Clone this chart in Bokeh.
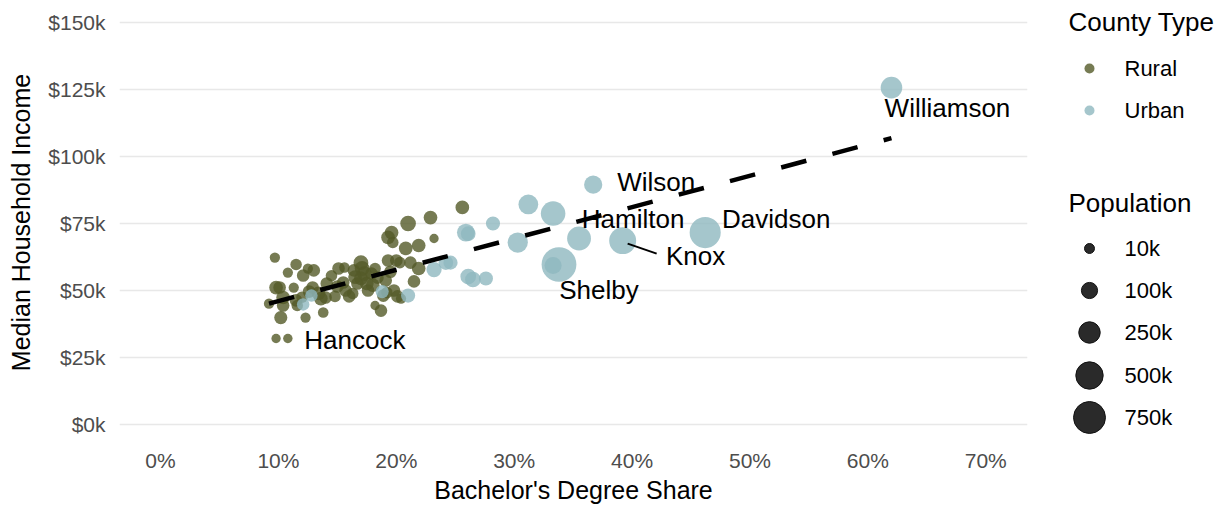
import numpy as np
from bokeh.plotting import figure
from bokeh.models import FixedTicker, Range1d
from bokeh.layouts import row
from bokeh.embed import file_html
from bokeh.resources import INLINE
from bokeh.core.properties import value

# ---------------- data ----------------
# Rural counties: bachelor's share (%), median household income ($), population
rural_names = ["Hancock"]  # labelled counties come first in the lists
rural_share = [10.8, 9.7, 9.2, 10.2, 9.8, 10.1, 10.4, 10.4, 11.5, 10.8, 11.3, 11.5, 11.6,
               12.1, 12.5, 13.0, 12.3, 12.9, 12.6, 13.4, 13.6, 14.0, 14.1, 13.8, 14.8,
               15.1, 15.6, 15.5, 15.7, 16.0, 16.4, 16.3, 17.0, 17.1, 17.3, 17.0, 16.7,
               17.5, 17.6, 17.9, 18.4, 18.2, 18.2, 18.7, 18.9, 19.2, 19.1, 19.3, 19.6,
               19.7, 19.3, 20.0, 20.3, 19.8, 20.1, 20.4, 20.8, 21.0, 21.2, 21.5, 21.9,
               21.9, 22.9, 23.2, 25.6, 9.8, 16.5, 18.0, 15.0, 14.5, 19.5, 12.0]
rural_income = [32100, 62300, 45100, 39900, 51100, 51100, 47400, 44400, 59700, 56700, 51100,
                46300, 44400, 55600, 58200, 57500, 39900, 51100, 49600, 48900, 47000, 47400,
                52600, 41800, 47800, 58200, 58600, 53000, 50000, 47800, 57500, 48900, 60400,
                58200, 56300, 54500, 52600, 52600, 50000, 56300, 54800, 58200, 44400, 42500,
                48100, 49200, 53700, 69800, 71600, 67900, 61200, 61200, 60400, 50000, 47800,
                47000, 65700, 75000, 60400, 53400, 58200, 66800, 77200, 69400, 81000, 32100,
                55000, 52000, 51500, 55500, 57000, 47500]
rural_pop = [6700, 12000, 12000, 44000, 53000, 37000, 53000, 37000, 24000, 12000, 12000,
             37000, 24000, 37000, 12000, 37000, 12000, 37000, 37000, 53000, 53000, 37000,
             37000, 15000, 24000, 37000, 15000, 37000, 37000, 37000, 37000, 24000, 72000,
             72000, 72000, 53000, 37000, 53000, 37000, 37000, 37000, 24000, 6000, 37000,
             37000, 24000, 37000, 53000, 53000, 24000, 37000, 37000, 24000, 37000, 37000,
             12000, 53000, 88000, 37000, 37000, 53000, 53000, 53000, 6000, 53000, 6000,
             53000, 53000, 37000, 24000, 37000, 24000]

# Urban counties
urban_names = ["Williamson", "Wilson", "Davidson", "Knox", "Hamilton", "Shelby"]
urban_share = [62.0, 36.7, 46.2, 39.2, 33.3, 33.8, 33.3, 35.5, 30.3, 31.2, 28.2, 25.9,
               26.1, 26.1, 26.5, 27.6, 23.2, 24.2, 24.6, 21.0, 18.8, 12.1, 12.8]
urban_income = [125700, 89500, 71600, 68600, 78700, 59700, 59300, 69400, 67900, 82100,
                75000, 71600, 71200, 55200, 54100, 54500, 57800, 60400, 60400, 48100,
                49600, 44800, 48100]
urban_pop = [255000, 150000, 700000, 480000, 370000, 930000, 120000, 340000, 210000,
             195000, 60000, 140000, 70000, 90000, 90000, 60000, 80000, 70000, 60000,
             60000, 45000, 35000, 35000]

x_ticks = [0.0, 0.1, 0.2, 0.3, 0.4, 0.5, 0.6, 0.7]
x_tick_labels = ["0%", "10%", "20%", "30%", "40%", "50%", "60%", "70%"]
y_ticks = [0, 25000, 50000, 75000, 100000, 125000, 150000]
y_tick_labels = ["$0k", "$25k", "$50k", "$75k", "$100k", "$125k", "$150k"]

legend_types = ["Rural", "Urban"]
legend_pops = [10000, 100000, 250000, 500000, 750000]
legend_pop_labels = ["10k", "100k", "250k", "500k", "750k"]

# ---------------- styles ----------------
FONT = "Liberation Sans"
RURAL_COL = "#545a28"
URBAN_COL = "#8eb8bf"
ALPHA = 0.8


def point_size(pop):
    return 7.1 + 0.0287 * np.sqrt(np.asarray(pop, dtype=float))


label_offsets = {  # screen px offsets of repelled labels from their points
    "Williamson": (56, 20),
    "Wilson": (63, -3),
    "Hamilton": (80, 5),
    "Davidson": (71, -14),
    "Knox": (73, 15),
    "Shelby": (40, 25),
    "Hancock": (67, 2),
}

X0, X1 = -0.0348, 0.7354
Y0, Y1 = -7462, 158208
FW, FH = 908, 444

p = figure(width=1048, height=508, x_range=Range1d(X0, X1), y_range=Range1d(Y0, Y1),
           toolbar_location=None, output_backend="svg",
           min_border_left=119, min_border_right=21, min_border_top=0, min_border_bottom=64)
p.outline_line_color = None
p.xgrid.visible = False
p.ygrid.grid_line_color = "#e8e8e8"
p.ygrid.grid_line_width = 1.6
p.ygrid.ticker = FixedTicker(ticks=y_ticks)

p.xaxis.ticker = FixedTicker(ticks=x_ticks)
p.xaxis.major_label_overrides = {t: l for t, l in zip(x_ticks, x_tick_labels)}
p.yaxis.ticker = FixedTicker(ticks=y_ticks)
p.yaxis.major_label_overrides = {t: l for t, l in zip(y_ticks, y_tick_labels)}
for ax in (p.xaxis, p.yaxis):
    ax.axis_line_color = None
    ax.major_tick_line_color = None
    ax.minor_tick_line_color = None
    ax.major_tick_out = 0
    ax.major_tick_in = 0
    ax.major_label_text_font = FONT
    ax.major_label_text_font_size = "21px"
    ax.major_label_text_color = "#4d4d4d"
    ax.axis_label_text_font = FONT
    ax.axis_label_text_font_size = "25px"
    ax.axis_label_text_font_style = "normal"
    ax.axis_label_text_color = "#000000"
p.xaxis.axis_label = "Bachelor's Degree Share"
p.yaxis.axis_label = "Median Household Income"
p.xaxis.major_label_standoff = 4
p.xaxis.axis_label_standoff = 1
p.yaxis.major_label_standoff = 14
p.yaxis.axis_label_standoff = 10

rx = np.array(rural_share) / 100.0
ux = np.array(urban_share) / 100.0
ry = np.array(rural_income, dtype=float)
uy = np.array(urban_income, dtype=float)

p.scatter(rx, ry, size=point_size(rural_pop), fill_color=RURAL_COL, fill_alpha=ALPHA,
          line_color=None)
p.scatter(ux, uy, size=point_size(urban_pop), fill_color=URBAN_COL, fill_alpha=ALPHA,
          line_color=None)

# linear trend
allx = np.concatenate([rx, ux])
ally = np.concatenate([ry, uy])
slope, icpt = np.polyfit(allx, ally, 1)
tx = np.array([allx.min(), allx.max()])
p.line(tx, slope * tx + icpt, line_color="black", line_width=4.5, line_dash="26 27")

# labels
lab_x, lab_y, lab_t, lab_dx, lab_dy = [], [], [], [], []
for names, xs, ys in ((rural_names, rx, ry), (urban_names, ux, uy)):
    for i, n in enumerate(names):
        dx, dy = label_offsets[n]
        lab_x.append(xs[i]); lab_y.append(ys[i]); lab_t.append(n)
        lab_dx.append(dx); lab_dy.append(dy)
p.text(x=lab_x, y=lab_y, text=lab_t, x_offset=lab_dx, y_offset=lab_dy,
       text_font=value(FONT), text_font_size="26px", text_align="center",
       text_baseline="middle", text_color="black")

# Knox connector segment
kx, ky = ux[urban_names.index("Knox")], uy[urban_names.index("Knox")]
ppx = (X1 - X0) / FW
ppy = (Y1 - Y0) / FH
p.segment(x0=[kx + 5 * ppx], y0=[ky - 3 * ppy], x1=[kx + 34 * ppx], y1=[ky - 13 * ppy],
          line_color="black", line_width=2)

# ---------------- legend panel ----------------
# (its frame is aligned with the main frame by the row layout: 1 unit = 1 px)
lg = figure(width=177, height=508, x_range=Range1d(0, 177), y_range=Range1d(FH, 0),
            toolbar_location=None, output_backend="svg", min_border=0,
            x_axis_location=None, y_axis_location=None)
lg.outline_line_color = None
lg.grid.visible = False

lg.text(x=[20, 20], y=[21, 202], text=["County Type", "Population"],
        text_font=value(FONT), text_font_size="26px", text_align="left",
        text_baseline="middle", text_color="black")
lg.scatter(x=[41, 41], y=[68, 110], size=10, fill_color=[RURAL_COL, URBAN_COL],
           fill_alpha=ALPHA, line_color=None)
lg.text(x=[76, 76], y=[68, 110], text=legend_types, text_font=value(FONT),
        text_font_size="22px", text_align="left", text_baseline="middle", text_color="black")
pop_y = [248, 290, 332, 375, 417]
lg.scatter(x=[41] * 5, y=pop_y, size=point_size(legend_pops), fill_color="#2a2a2a",
           line_color="#111111", line_width=1)
lg.text(x=[76] * 5, y=pop_y, text=legend_pop_labels, text_font=value(FONT),
        text_font_size="22px", text_align="left", text_baseline="middle", text_color="black")

layout = row(p, lg)
open("out.html", "w").write(file_html(layout, INLINE))
